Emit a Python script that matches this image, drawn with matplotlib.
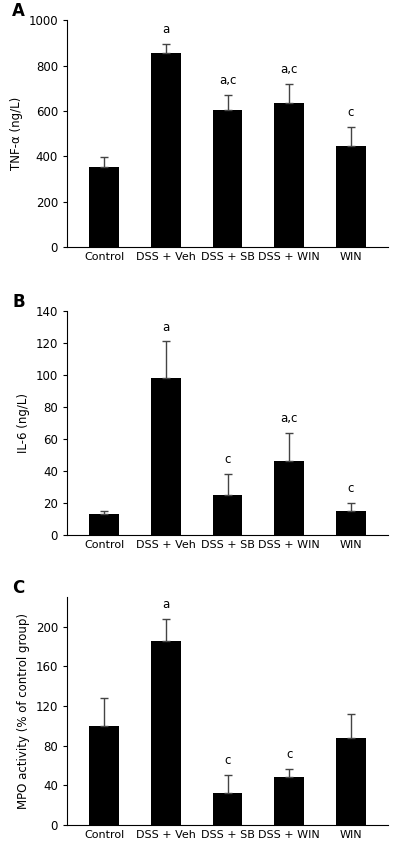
import matplotlib.pyplot as plt
import numpy as np

groups = ['Control', 'DSS + Veh', 'DSS + SB', 'DSS + WIN', 'WIN']

tnf = [355, 855, 605, 635, 445]
tnf_err = [40, 40, 65, 85, 85]
tnf_sig = ['', 'a', 'a,c', 'a,c', 'c']

il6 = [13, 98, 25, 46, 15]
il6_err = [2, 23, 13, 18, 5]
il6_sig = ['', 'a', 'c', 'a,c', 'c']

mpo = [100, 186, 32, 48, 88]
mpo_err = [28, 22, 18, 8, 24]
mpo_sig = ['', 'a', 'c', 'c', '']

panels = [
    ('A', tnf, tnf_err, tnf_sig, 'TNF-α (ng/L)', 1000, [0, 200, 400, 600, 800, 1000], [0.1675, 0.710, 0.8025, 0.2664]),
    ('B', il6, il6_err, il6_sig, 'IL-6 (ng/L)', 140, [0, 20, 40, 60, 80, 100, 120, 140], [0.1675, 0.372, 0.8025, 0.263]),
    ('C', mpo, mpo_err, mpo_sig, 'MPO activity (% of control group)', 230, [0, 40, 80, 120, 160, 200], [0.1675, 0.0317, 0.8025, 0.2676]),
]

fig = plt.figure(figsize=(4, 8.52), dpi=100)
x = np.arange(len(groups))
for letter, vals, errs, sig, ylab, ymax, ticks, pos in panels:
    ax = fig.add_axes(pos)
    ax.bar(x, vals, width=0.48, color='black')
    ax.errorbar(x, vals, yerr=[np.zeros(len(vals)), errs], fmt='none',
                ecolor='#444444', elinewidth=1, capsize=3)
    for xi, v, e, s in zip(x, vals, errs, sig):
        if s:
            ax.text(xi, v + e + ymax * 0.035, s, ha='center', va='bottom', fontsize=8.5)
    ax.set_xlim(-0.6, 4.6)
    ax.set_ylim(0, ymax)
    ax.set_yticks(ticks)
    ax.set_xticks(x)
    ax.set_xticklabels(groups, fontsize=8)
    ax.tick_params(axis='x', length=0)
    ax.tick_params(axis='y', labelsize=8.5, length=3)
    ax.set_ylabel(ylab, fontsize=8.5)
    ax.spines['top'].set_visible(False)
    ax.spines['right'].set_visible(False)
    fig.text(0.03, pos[1] + pos[3] + 0.005, letter, fontsize=12, fontweight='bold')

fig.savefig('out.png', dpi=100)
